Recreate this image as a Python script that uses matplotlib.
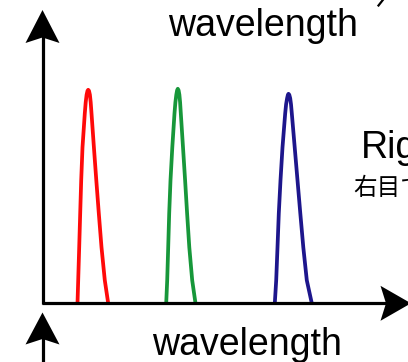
import matplotlib
matplotlib.use("Agg")
import matplotlib.pyplot as plt
from matplotlib.patches import Polygon

# ---- data (wavelength units, intensity units) ----
red_x = [35, 35.7, 36.7, 37.7, 38.7, 40, 42.3, 43.2, 44.1, 45, 45.7, 46.5, 47.4, 48.2, 49,
         51.4, 53.8, 56.3, 59, 62.3, 65.7]
red_y = [0, 23, 56, 90, 123, 156, 190, 201, 208.5, 212.5, 213.5, 212.5, 208.5, 201, 190,
         156, 123, 90, 56, 23, 0]
green_x = [123.7, 124.7, 125.7, 126.7, 128, 129.8, 132, 132.9, 133.8, 134.6, 135.3, 136.1,
           136.9, 137.6, 138.3, 140.5, 142.6, 144.6, 146.8, 149.7, 153]
green_y = [0, 23, 56, 90, 123, 156, 190, 201, 208.5, 213, 214.5, 213, 208.5, 201, 190,
           156, 123, 90, 56, 23, 0]
blue_x = [232.3, 233.7, 235, 236.3, 238, 240, 242.7, 243.6, 244.6, 245.4, 246, 246.8, 247.7,
          248.5, 249.3, 252.2, 255, 257.8, 260.8, 264.3, 269.3]
blue_y = [0, 23, 56, 90, 123, 156, 190, 199, 205, 208.5, 209.5, 208.5, 205, 199, 190,
          156, 123, 90, 56, 23, 0]

series = [(red_x, red_y, "#ff0a0a"), (green_x, green_y, "#17973a"), (blue_x, blue_y, "#1d168c")]

axis_label = "wavelength"
right_label = "Right"
right_label_jp = "右目で"

W, H = 408, 362
fig = plt.figure(figsize=(W / 100, H / 100), dpi=100)

# main plot axes: origin at the corner of the drawn axes
x0, y0 = 42.5, 303.3
ax = fig.add_axes([x0 / W, (H - y0) / H, (W - x0) / W, y0 / H])
ax.set_xlim(0, W - x0)
ax.set_ylim(0, y0)
ax.axis("off")
for xs, ys, c in series:
    ax.plot(xs, ys, color=c, lw=2.7, solid_joinstyle="round", solid_capstyle="butt",
            zorder=2)

# decoration overlay in pixel coordinates
deco = fig.add_axes([0, 0, 1, 1], zorder=3)
deco.set_xlim(0, W)
deco.set_ylim(H, 0)
deco.axis("off")
deco.patch.set_alpha(0)

k = "black"
lw = 2.3
# y axis
deco.plot([x0, x0], [y0 + 1, 36], color=k, lw=lw, solid_capstyle="butt")
deco.add_patch(Polygon([[x0, 10], [x0 - 17, 43], [x0, 37.5], [x0 + 17, 43]],
                       closed=True, color=k, lw=0))
# x axis
deco.plot([x0 - 1, 387], [y0, y0], color=k, lw=lw, solid_capstyle="butt")
deco.add_patch(Polygon([[411, y0], [380.5, y0 - 17.5], [386, y0], [380.5, y0 + 17.5]],
                       closed=True, color=k, lw=0))
# lower arrow (next panel)
deco.plot([x0, x0], [H + 2, 338], color=k, lw=lw, solid_capstyle="butt")
deco.add_patch(Polygon([[x0, 312.5], [x0 - 17, 344.5], [x0, 339], [x0 + 17, 344.5]],
                       closed=True, color=k, lw=0))
# fragment top-right
deco.plot([378.5, 386], [5.5, -4], color=k, lw=1.6)

font = ["Liberation Sans", "DejaVu Sans"]
deco.text(168, 36, axis_label, fontsize=27, family=font, va="baseline", ha="left")
deco.text(152, 355, axis_label, fontsize=27, family=font, va="baseline", ha="left")
deco.text(361, 158.5, right_label, fontsize=27, family=font, va="baseline", ha="left")
deco.text(353, 195, right_label_jp, fontsize=17, family=["Noto Sans CJK JP", "DejaVu Sans"],
          va="baseline", ha="left")

fig.savefig("out.png", dpi=100)
